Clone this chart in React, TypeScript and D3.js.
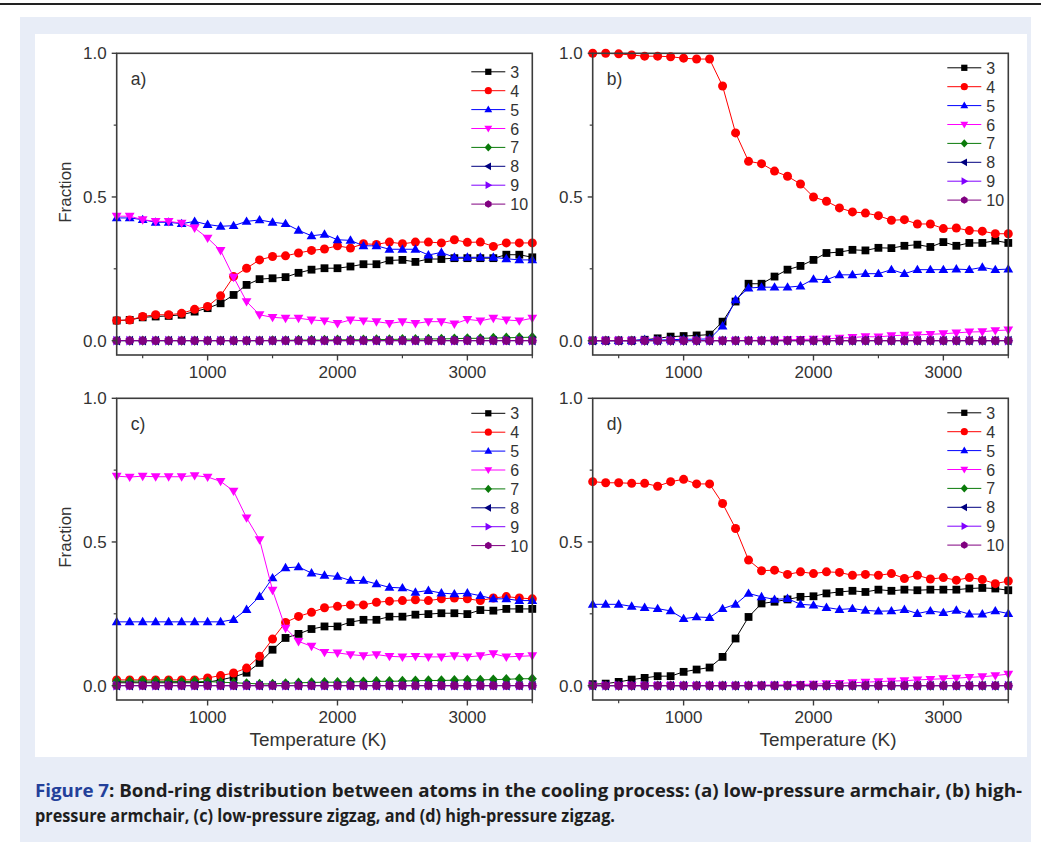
import React from 'react';
import * as d3 from 'd3';

// ---------- data ----------
const temperatures = [300,400,500,600,700,800,900,1000,1100,1200,1300,1400,1500,1600,1700,1800,1900,2000,2100,2200,2300,2400,2500,2600,2700,2800,2900,3000,3100,3200,3300,3400,3500];
const ringSizes = ['3','4','5','6','7','8','9','10'];
const ringColors = ['#000000','#ff0000','#0000ff','#ff00ff','#0a7a0a','#000080','#8000ff','#800080'];
const yMajorTicks = [0, 0.5, 1.0];
const yMinorTicks = [0.25, 0.75];
const xMajorTicks = [1000, 2000, 3000];
const xMinorTicks = [500, 1500, 2500, 3500];
const panelLabels = ['a)', 'b)', 'c)', 'd)'];

const zeros = [0,0,0,0,0,0,0,0,0,0,0,0,0,0,0,0,0,0,0,0,0,0,0,0,0,0,0,0,0,0,0,0,0];

// (a) low-pressure armchair
const a3 = [0.070,0.072,0.081,0.084,0.086,0.090,0.101,0.113,0.130,0.159,0.194,0.214,0.217,0.221,0.236,0.247,0.252,0.252,0.258,0.266,0.266,0.279,0.281,0.274,0.284,0.284,0.287,0.287,0.287,0.287,0.299,0.299,0.290];
const a4 = [0.070,0.072,0.084,0.090,0.090,0.095,0.109,0.119,0.156,0.223,0.252,0.281,0.293,0.295,0.305,0.314,0.319,0.330,0.322,0.337,0.335,0.343,0.337,0.343,0.343,0.340,0.351,0.342,0.343,0.328,0.340,0.340,0.340];
const a5 = [0.427,0.427,0.421,0.412,0.412,0.407,0.415,0.404,0.398,0.400,0.415,0.420,0.412,0.407,0.384,0.365,0.370,0.351,0.349,0.330,0.330,0.318,0.318,0.318,0.298,0.307,0.290,0.290,0.290,0.290,0.285,0.281,0.281];
const a6 = [0.433,0.433,0.421,0.415,0.415,0.409,0.392,0.357,0.314,0.221,0.136,0.090,0.081,0.078,0.078,0.072,0.069,0.060,0.072,0.069,0.066,0.060,0.066,0.060,0.066,0.066,0.058,0.074,0.069,0.078,0.072,0.069,0.078];
const a7 = [0,0,0,0,0,0,0,0,0,0,0,0,0.001,0.001,0.002,0.002,0.002,0.003,0.003,0.003,0.004,0.004,0.005,0.005,0.006,0.006,0.007,0.008,0.008,0.009,0.010,0.011,0.012];
const a8 = zeros;
const a9 = zeros;
const a10 = zeros;

// (b) high-pressure armchair
const b3 = [0,0,0,0,0.003,0.008,0.014,0.016,0.018,0.021,0.066,0.136,0.198,0.198,0.223,0.247,0.260,0.281,0.305,0.308,0.316,0.314,0.323,0.322,0.330,0.334,0.326,0.343,0.330,0.340,0.340,0.348,0.340];
const b4 = [1.000,1.000,0.998,0.994,0.990,0.990,0.988,0.983,0.980,0.980,0.886,0.723,0.624,0.616,0.590,0.572,0.545,0.500,0.485,0.462,0.448,0.444,0.435,0.419,0.421,0.406,0.406,0.390,0.392,0.383,0.381,0.372,0.372];
const b5 = [0,0,0,0,0.004,0.002,0.003,0.005,0.005,0.006,0.051,0.142,0.183,0.186,0.186,0.186,0.190,0.214,0.212,0.229,0.229,0.233,0.233,0.247,0.233,0.247,0.247,0.247,0.249,0.247,0.255,0.247,0.249];
const b6 = [0,0,0,0,0,0,0,0,0,0,0,0,0.001,0.001,0.002,0.003,0.004,0.005,0.006,0.009,0.011,0.014,0.013,0.017,0.019,0.020,0.022,0.024,0.027,0.030,0.031,0.035,0.037];
const b7 = zeros;
const b8 = zeros;
const b9 = zeros;
const b10 = zeros;

// (c) low-pressure zigzag
const c3 = [0.010,0.010,0.010,0.010,0.010,0.010,0.010,0.012,0.020,0.030,0.045,0.079,0.125,0.166,0.180,0.197,0.206,0.206,0.221,0.229,0.229,0.240,0.240,0.247,0.249,0.252,0.252,0.249,0.263,0.261,0.267,0.267,0.267];
const c4 = [0.020,0.020,0.020,0.020,0.020,0.020,0.020,0.027,0.035,0.044,0.061,0.102,0.162,0.220,0.241,0.255,0.271,0.276,0.281,0.281,0.290,0.294,0.296,0.299,0.296,0.302,0.305,0.302,0.296,0.305,0.310,0.305,0.302];
const c5 = [0.222,0.222,0.222,0.222,0.222,0.222,0.222,0.222,0.222,0.230,0.265,0.310,0.375,0.410,0.413,0.392,0.384,0.380,0.366,0.366,0.354,0.342,0.340,0.325,0.331,0.322,0.319,0.322,0.313,0.302,0.302,0.296,0.296];
const c6 = [0.729,0.726,0.729,0.727,0.727,0.727,0.731,0.726,0.711,0.677,0.584,0.508,0.332,0.200,0.154,0.137,0.116,0.114,0.108,0.104,0.108,0.102,0.100,0.102,0.100,0.100,0.104,0.100,0.104,0.111,0.100,0.102,0.104];
const c7 = [0.015,0.015,0.016,0.015,0.015,0.014,0.015,0.014,0.012,0.010,0.008,0.006,0.006,0.008,0.010,0.011,0.012,0.012,0.013,0.014,0.015,0.015,0.016,0.017,0.018,0.018,0.019,0.020,0.020,0.021,0.022,0.024,0.024];
const c8 = zeros;
const c9 = zeros;
const c10 = zeros;

// (d) high-pressure zigzag
const d3v = [0.005,0.007,0.013,0.021,0.027,0.033,0.033,0.048,0.056,0.063,0.100,0.164,0.239,0.286,0.292,0.300,0.309,0.311,0.321,0.326,0.330,0.326,0.334,0.330,0.334,0.332,0.334,0.334,0.334,0.338,0.340,0.338,0.332];
const d4v = [0.710,0.706,0.706,0.704,0.704,0.694,0.710,0.718,0.702,0.702,0.634,0.547,0.437,0.400,0.402,0.387,0.396,0.390,0.396,0.394,0.384,0.387,0.384,0.390,0.373,0.384,0.371,0.376,0.367,0.376,0.369,0.355,0.364];
const d5v = [0.283,0.283,0.283,0.276,0.272,0.268,0.260,0.233,0.239,0.237,0.268,0.283,0.321,0.309,0.300,0.303,0.283,0.280,0.272,0.265,0.268,0.262,0.259,0.260,0.265,0.251,0.260,0.254,0.262,0.249,0.249,0.260,0.251];
const d6v = [0,0,0,0,0,0,0,0,0,0,0,0,0.001,0.002,0.002,0.003,0.004,0.005,0.007,0.008,0.010,0.012,0.014,0.016,0.017,0.020,0.022,0.024,0.026,0.029,0.031,0.035,0.040];
const d7v = zeros;
const d8v = zeros;
const d9v = zeros;
const d10v = zeros;

const panelSeries = [
  [a3, a4, a5, a6, a7, a8, a9, a10],
  [b3, b4, b5, b6, b7, b8, b9, b10],
  [c3, c4, c5, c6, c7, c8, c9, c10],
  [d3v, d4v, d5v, d6v, d7v, d8v, d9v, d10v],
];

const captionHead = 'Figure 7';
const captionLine1 = ': Bond-ring distribution between atoms in the cooling process: (a) low-pressure armchair, (b) high-';
const captionLine2 = 'pressure armchair, (c) low-pressure zigzag, and (d) high-pressure zigzag.';

// ---------- layout ----------
const W = 1041;
const H = 842;
const PW = 415.6;
const PH = 301.7;
const layout = [
  { left: 116.7, top: 53.3, yTitle: true, xTitle: false, legendOff: 18.5, titleX: 0 },
  { left: 592.7, top: 53.3, yTitle: false, xTitle: false, legendOff: 14.5, titleX: 0 },
  { left: 116.7, top: 398.3, yTitle: true, xTitle: true, legendOff: 15, titleX: 318 },
  { left: 592.7, top: 398.3, yTitle: false, xTitle: true, legendOff: 14.5, titleX: 828 },
];

const FONT = "'Liberation Sans', Arial, sans-serif";
const AXIS = '#3c3c3c';
const TXT = '#333333';

function markerPath(k: number): string {
  switch (k) {
    case 0: return 'M-3.9,-3.9H3.9V3.9H-3.9Z';
    case 1: return 'M4.5,0A4.5,4.5 0 1 1 -4.5,0A4.5,4.5 0 1 1 4.5,0Z';
    case 2: return 'M0,-5L4.9,3.4L-4.9,3.4Z';
    case 3: return 'M0,5L4.9,-3.4L-4.9,-3.4Z';
    case 4: return 'M0,-5.2L4.6,0L0,5.2L-4.6,0Z';
    case 5: return 'M-5,0L3.4,-4.9L3.4,4.9Z';
    case 6: return 'M5,0L-3.4,-4.9L-3.4,4.9Z';
    default: {
      const r = 4.7;
      const pts = d3.range(6).map((i) => {
        const a = (Math.PI / 3) * i + Math.PI / 6;
        return [r * Math.cos(a), r * Math.sin(a)];
      });
      return 'M' + pts.map((p) => p[0].toFixed(2) + ',' + p[1].toFixed(2)).join('L') + 'Z';
    }
  }
}

function Panel({ idx }: { idx: number }) {
  const L = layout[idx];
  const series = panelSeries[idx];
  const x = d3.scaleLinear().domain([300, 3500]).range([L.left, L.left + PW]);
  const y = d3.scaleLinear().domain([-0.05, 1.0]).range([L.top + PH, L.top]);
  const line = d3.line<number>().x((_, i) => x(temperatures[i])).y((d) => y(d));
  const bottom = L.top + PH;
  const right = L.left + PW;
  return (
    <g>
      {series.map((vals, k) => (
        <g key={k}>
          <path d={line(vals) || ''} fill="none" stroke={ringColors[k]} strokeWidth={1} />
          {vals.map((v, i) => (
            <path key={i} d={markerPath(k)} transform={`translate(${x(temperatures[i])},${y(v)})`} fill={ringColors[k]} />
          ))}
        </g>
      ))}
      <rect x={L.left} y={L.top} width={PW} height={PH} fill="none" stroke={AXIS} strokeWidth={1.6} />
      {yMajorTicks.map((t) => (
        <g key={'ym' + t}>
          <line x1={L.left - 5} x2={L.left} y1={y(t)} y2={y(t)} stroke={AXIS} strokeWidth={1.4} />
          <text x={L.left - 10} y={y(t) + 6} textAnchor="end" fontFamily={FONT} fontSize={17} fill={TXT}>{t.toFixed(1)}</text>
        </g>
      ))}
      {yMinorTicks.map((t) => (
        <line key={'yn' + t} x1={L.left - 3} x2={L.left} y1={y(t)} y2={y(t)} stroke={AXIS} strokeWidth={1.2} />
      ))}
      {xMajorTicks.map((t) => (
        <g key={'xm' + t}>
          <line x1={x(t)} x2={x(t)} y1={bottom} y2={bottom + 5.5} stroke={AXIS} strokeWidth={1.4} />
          <text x={x(t)} y={bottom + 22.5} textAnchor="middle" fontFamily={FONT} fontSize={17} fill={TXT}>{t}</text>
        </g>
      ))}
      {xMinorTicks.map((t) => (
        <line key={'xn' + t} x1={x(t)} x2={x(t)} y1={bottom} y2={bottom + 3.3} stroke={AXIS} strokeWidth={1.2} />
      ))}
      <text x={L.left + 14} y={L.top + 32} fontFamily={FONT} fontSize={17.5} fill={TXT}>{panelLabels[idx]}</text>
      {L.yTitle && (
        <text transform={`translate(${L.left - 46},${L.top + PH / 2 - 12}) rotate(-90)`} textAnchor="middle" fontFamily={FONT} fontSize={17} fill={TXT}>Fraction</text>
      )}
      {L.xTitle && (
        <text x={L.titleX} y={bottom + 46} textAnchor="middle" fontFamily={FONT} fontSize={17.5} fill={TXT} textLength={137} lengthAdjust="spacingAndGlyphs">Temperature (K)</text>
      )}
      {ringSizes.map((name, k) => {
        const ry = L.top + L.legendOff + k * 18.9;
        return (
          <g key={'lg' + k}>
            <line x1={right - 61} x2={right - 27} y1={ry} y2={ry} stroke={ringColors[k]} strokeWidth={1} />
            <path d={markerPath(k)} transform={`translate(${right - 44},${ry}) scale(0.8)`} fill={ringColors[k]} />
            <text x={right - 22} y={ry + 6} fontFamily={FONT} fontSize={16} fill={TXT}>{name}</text>
          </g>
        );
      })}
    </g>
  );
}

export default function App() {
  return (
    <div style={{ position: 'absolute', left: 0, top: 0 }}>
      <svg width={W} height={H} viewBox={`0 0 ${W} ${H}`} style={{ display: 'block' }}>
        <rect x={0} y={0} width={W} height={H} fill="#ffffff" />
        <line x1={0} x2={W} y1={4} y2={4} stroke="#222" strokeWidth={2} />
        <rect x={20} y={17} width={1011} height={825} fill="#e8edf7" />
        <rect x={35} y={34} width={992} height={723} fill="#ffffff" />
        {[0, 1, 2, 3].map((i) => <Panel key={i} idx={i} />)}
        <text x={35} y={797} fontFamily="'Open Sans', 'Noto Sans', sans-serif" fontWeight={700} fontSize={18} fill="#1e1e1e" textLength={987} lengthAdjust="spacingAndGlyphs">
          <tspan fill="#23409a">{captionHead}</tspan>{captionLine1}
        </text>
        <text x={35} y={822} fontFamily="'Open Sans', 'Noto Sans', sans-serif" fontWeight={700} fontSize={18} fill="#1e1e1e" textLength={580} lengthAdjust="spacingAndGlyphs">
          {captionLine2}
        </text>
      </svg>
    </div>
  );
}
